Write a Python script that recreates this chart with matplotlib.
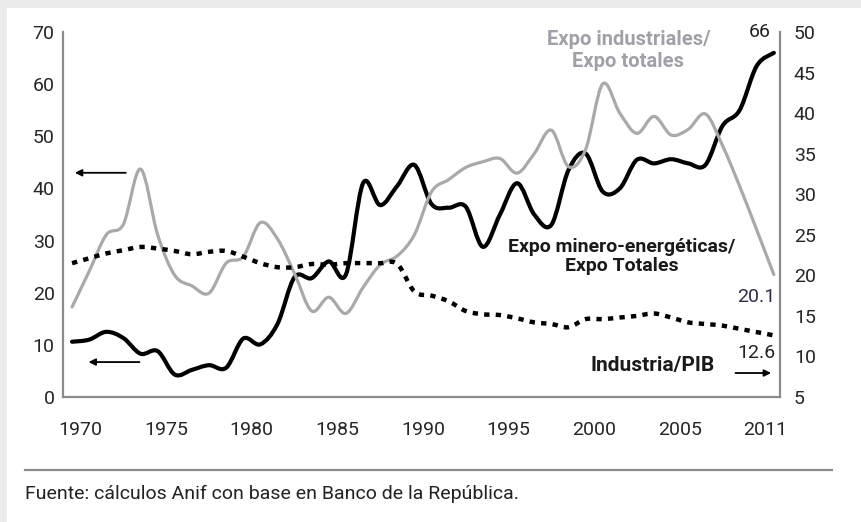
import numpy as np
import matplotlib
matplotlib.use('Agg')
import matplotlib.pyplot as plt
from matplotlib.path import Path
from matplotlib.patches import PathPatch, Rectangle
from matplotlib.lines import Line2D

plt.rcParams['font.family'] = ['Roboto', 'DejaVu Sans']

# --------------------------------------------------------------------------
#   datos
# --------------------------------------------------------------------------
years = list(range(1970, 2012))

# Expo minero-energeticas / Expo totales (eje izquierdo)
minero = [10.6, 11.0, 12.5, 11.3, 8.3, 8.8, 4.3, 5.2, 6.1, 5.6,
          11.2, 10.1, 14.0, 23.0, 22.8, 26.0, 23.5, 41.0, 36.8, 40.5,
          44.5, 37.0, 36.3, 36.5, 28.8, 35.0, 41.0, 35.0, 33.0, 43.5,
          46.7, 39.4, 40.0, 45.5, 44.8, 45.6, 44.8, 44.5, 52.0, 55.0,
          63.5, 66.0]

# Expo industriales / Expo totales (eje derecho)
industriales = [16.1, 20.5, 25.0, 26.3, 33.1, 25.0, 20.0, 18.7, 17.8, 21.5,
                22.3, 26.5, 24.5, 20.2, 15.6, 17.3, 15.3, 18.5, 21.3, 22.4,
                25.0, 30.3, 31.8, 33.3, 34.0, 34.4, 32.6, 35.0, 37.9, 33.4,
                35.5, 43.6, 40.0, 37.5, 39.6, 37.3, 38.0, 39.9, 36.0, 31.0,
                25.6, 20.1]

# Industria / PIB (eje derecho)
industria_pib = [21.5, 22.1, 22.7, 23.1, 23.5, 23.3, 23.0, 22.6, 22.9, 23.0,
                 22.3, 21.5, 21.0, 21.0, 21.4, 21.3, 21.5, 21.5, 21.5, 21.4,
                 18.0, 17.5, 16.8, 15.6, 15.2, 15.1, 14.7, 14.2, 14.0, 13.6,
                 14.6, 14.6, 14.8, 15.0, 15.3, 14.8, 14.2, 14.0, 13.8, 13.4,
                 13.0, 12.6]

x_ticks = [1970, 1975, 1980, 1985, 1990, 1995, 2000, 2005, 2010]
x_labels = ['1970', '1975', '1980', '1985', '1990', '1995', '2000', '2005', '2011']
left_ticks = list(range(0, 80, 10))
right_ticks = list(range(5, 55, 5))


def smooth_path(x, y, k=1 / 6):
    """ curva suavizada (tipo Excel) que pasa por todos los puntos """
    x = np.asarray(x, float)
    y = np.asarray(y, float)
    n = len(x)
    verts = [(x[0], y[0])]
    codes = [Path.MOVETO]
    for i in range(n - 1):
        i0 = max(i - 1, 0)
        i3 = min(i + 2, n - 1)
        c1 = (x[i] + (x[i + 1] - x[i0]) * k, y[i] + (y[i + 1] - y[i0]) * k)
        c2 = (x[i + 1] - (x[i3] - x[i]) * k, y[i + 1] - (y[i3] - y[i]) * k)
        verts += [c1, c2, (x[i + 1], y[i + 1])]
        codes += [Path.CURVE4] * 3
    return Path(verts, codes)


fig = plt.figure(figsize=(8.61, 5.22), dpi=100)
fig.patch.set_facecolor('white')

# marco gris claro de la captura
fig.add_artist(Rectangle((0, 1 - 8 / 522), 1, 8 / 522, transform=fig.transFigure,
                         facecolor='#ececec', edgecolor='none'))
fig.add_artist(Rectangle((0, 0), 7 / 861, 1, transform=fig.transFigure,
                         facecolor='#ececec', edgecolor='none'))

ax = fig.add_axes([63 / 861, 1 - 397 / 522, (780 - 63) / 861, (397 - 32) / 522])
ax2 = ax.twinx()

ax.set_xlim(1969.47, 2011.36)
ax.set_ylim(0, 70)
ax2.set_ylim(5, 50)

spine_c = '#8c8c8c'
for a in (ax, ax2):
    a.spines['top'].set_visible(False)
    for s in ('left', 'right', 'bottom'):
        a.spines[s].set_color(spine_c)
        a.spines[s].set_linewidth(1.6)
ax.spines['right'].set_visible(False)
ax2.spines['left'].set_visible(False)
ax2.spines['bottom'].set_visible(False)

tick_c = '#262626'
ax.set_xticks([t + 0.5 for t in x_ticks])
ax.set_xticklabels(x_labels)
ax.set_yticks(left_ticks)
ax2.set_yticks(right_ticks)
ax.tick_params(axis='x', length=0, pad=17, labelsize=14, colors=tick_c)
ax.tick_params(axis='y', length=0, pad=6, labelsize=14, colors=tick_c)
ax2.tick_params(axis='y', length=0, pad=10, labelsize=14, colors=tick_c)

# series
ax.add_patch(PathPatch(smooth_path(years, minero), fill=False, edgecolor='black',
                       linewidth=3.0, capstyle='round', joinstyle='round'))
ax2.add_patch(PathPatch(smooth_path(years, industriales), fill=False, edgecolor='#a9a9a9',
                        linewidth=2.3, capstyle='round', joinstyle='round'))
ax2.add_patch(PathPatch(smooth_path(years, industria_pib), fill=False, edgecolor='black',
                        linewidth=3.2, linestyle=(0, (1.2, 1.4)), capstyle='butt'))

# flechas
arrow = dict(arrowstyle='-|>', color='black', lw=1.3, mutation_scale=10)
ax.annotate('', xy=(1970.0, 43.0), xytext=(1973.3, 43.0), arrowprops=arrow)
ax.annotate('', xy=(1970.8, 6.7), xytext=(1974.1, 6.7), arrowprops=arrow)
ax.annotate('', xy=(2011.0, 4.6), xytext=(2008.6, 4.6), arrowprops=arrow)

# etiquetas
ax.text(2002.5, 66.5, 'Expo industriales/\nExpo totales', color='#a0a0a8',
        fontsize=14.5, fontweight='bold', ha='center', va='center', linespacing=1.2)
ax.text(2002.1, 27.0, 'Expo minero-energéticas/\nExpo Totales', color='#1a1a1a',
        fontsize=14, fontweight='bold', ha='center', va='center', linespacing=1.1)
ax.text(2003.9, 6.1, 'Industria/PIB', color='#1a1a1a', fontsize=15,
        fontweight='bold', ha='center', va='center')
ax.text(2010.2, 70.0, '66', color='#222222', fontsize=14, ha='center', va='center')
ax.text(2010.0, 19.2, '20.1', color='#2e2e48', fontsize=14, ha='center', va='center')
ax.text(2010.0, 8.4, '12.6', color='#222222', fontsize=14, ha='center', va='center')

# fuente
fig.add_artist(Line2D([25 / 861, 832 / 861], [1 - 470 / 522, 1 - 470 / 522],
                      transform=fig.transFigure, color='#8c8c8c', linewidth=1.6))
fig.text(25 / 861, 1 - 494 / 522, 'Fuente: cálculos Anif con base en Banco de la República.',
         fontsize=14, color='#222222', ha='left', va='center')

fig.savefig('out.png', dpi=100)
